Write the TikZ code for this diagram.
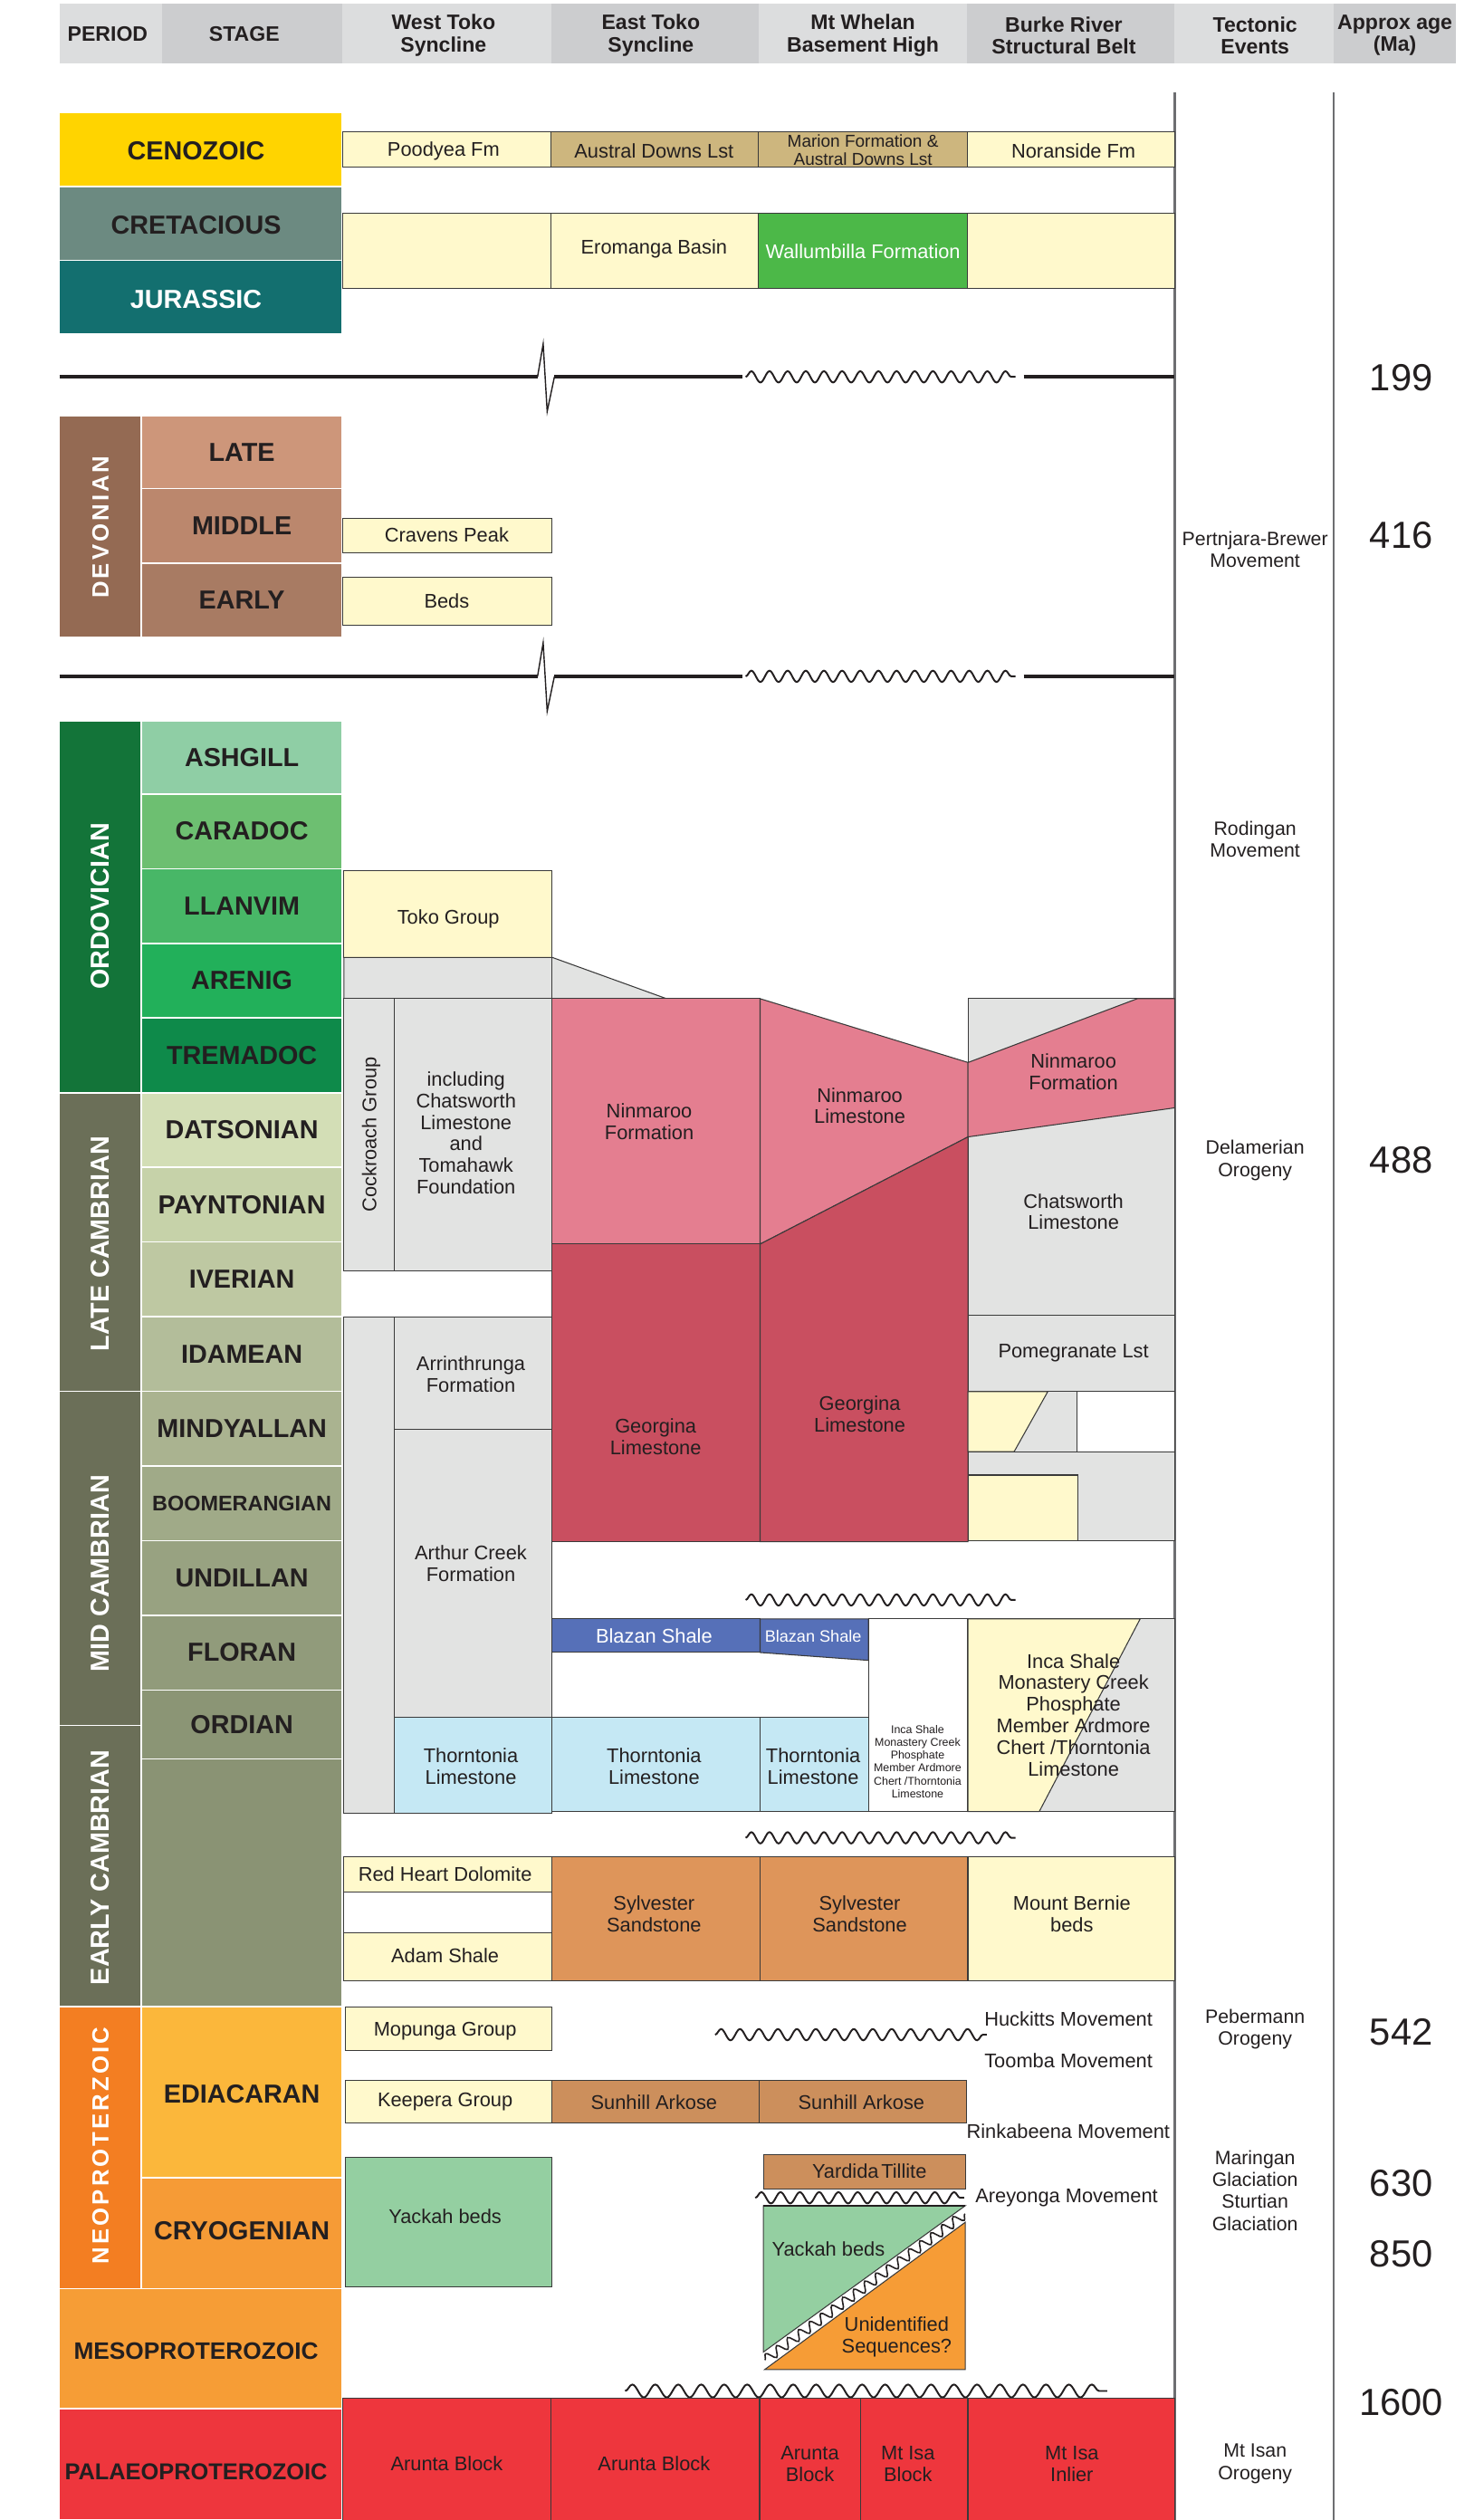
\documentclass[tikz,border=0pt]{standalone}
\usepackage{fontspec}
\setmainfont{Liberation Sans}
\usetikzlibrary{decorations.pathmorphing}
\definecolor{txt}{HTML}{231F20}
\definecolor{lnc}{HTML}{3A3A3A}
\definecolor{vlc}{HTML}{6D6E71}
\definecolor{hA}{HTML}{DCDDDE}
\definecolor{hB}{HTML}{CCCDCF}
\definecolor{yel}{HTML}{FFF9CC}
\definecolor{tan}{HTML}{CDB67E}
\definecolor{wgreen}{HTML}{4CB848}
\definecolor{gry}{HTML}{E2E3E2}
\definecolor{pnk}{HTML}{E47E90}
\definecolor{dpnk}{HTML}{C94F60}
\definecolor{lblue}{HTML}{C5E8F4}
\definecolor{blz}{HTML}{5670B8}
\definecolor{syl}{HTML}{DE955A}
\definecolor{sun}{HTML}{CC8F5C}
\definecolor{yack}{HTML}{94CFA1}
\definecolor{unid}{HTML}{F69C36}
\definecolor{rblk}{HTML}{EE363D}
\definecolor{camb}{HTML}{6B6F58}
\newcommand\myfs[2]{\fontsize{#1}{#2}\selectfont}
\newcommand\stg[5]{\path[pc,fill=#1] (88,#2) rectangle (213,#3); \node[pl] (#4) at (150.5,{(#2+#3)/2}) {#5};}
\tikzset{
 every node/.style={inner sep=0pt, outer sep=0pt, text=txt},
 hd/.style={font=\myfs{13}{13.8}\bfseries, align=center},
 pl/.style={font=\myfs{16.2}{18}\bfseries},
 vpl/.style={rotate=90, font=\myfs{16.2}{18}\bfseries, text=white},
 vsp/.style={rotate=90, font=\myfs{14.5}{16}\bfseries\addfontfeature{LetterSpace=12}, text=white},
 ft/.style={font=\myfs{12.3}{13.4}, align=center},
 tec/.style={font=\myfs{12}{13.6}, align=center},
 age/.style={font=\myfs{23.5}{26}},
 fm/.style={draw=lnc, line width=0.6pt},
 pc/.style={draw=white, line width=0.9pt},
 ucf/.style={line width=2pt, draw=txt},
 wv/.style={decorate, decoration={snake, amplitude=3.5pt, segment length=11.3pt}, line width=1.1pt, draw=txt},
 vline/.style={draw=vlc, line width=1.3pt},
}
\begin{document}
\begin{tikzpicture}[x=1pt,y=-1pt]
\useasboundingbox (0,0) rectangle (917,1568);
% ---------- header ----------
\fill[hA] (37,2.5) rectangle (101,39.5);
\fill[hB] (101,2.5) rectangle (213,39.5);
\fill[hA] (213,2.5) rectangle (343,39.5);
\fill[hB] (343,2.5) rectangle (472,39.5);
\fill[hA] (472,2.5) rectangle (602,39.5);
\fill[hB] (602,2.5) rectangle (731,39.5);
\fill[hA] (731,2.5) rectangle (830,39.5);
\fill[hB] (830,2.5) rectangle (906,39.5);
\node[hd] (hP) at (67,21) {PERIOD};
\node[hd] (hS) at (152,21) {STAGE};
\node[hd] (hW) at (276,22) {West Toko\\Syncline};
\node[hd] (hE) at (405,22) {East Toko\\Syncline};
\node[hd] (hM) at (537,22) {Mt Whelan\\Basement High};
\node[hd] (hB) at (662,22) {Burke River\\Structural Belt};
\node[hd] (hT) at (781,22) {Tectonic\\Events};
\node[hd] (hA) at (868,22) {Approx age\\(Ma)};
% ---------- vertical lines ----------
\draw[vline] (731,57.5) -- (731,1568);
\draw[vline] (830,57.5) -- (830,1568);
% ---------- Cenozoic - Jurassic ----------
\path[pc,fill={rgb,255:red,255;green,212;blue,0}] (37,70) rectangle (213,116);
\path[pc,fill={rgb,255:red,108;green,138;blue,129}] (37,116) rectangle (213,162);
\path[pc,fill={rgb,255:red,19;green,111;blue,111}] (37,162) rectangle (213,208);
\node[pl] (pCen) at (122,94) {CENOZOIC};
\node[pl] (pCre) at (122,140) {CRETACIOUS};
\node[pl,text=white] (pJur) at (122,186) {JURASSIC};
\path[fm,fill=yel] (213,82) rectangle (343,103.7);
\path[fm,fill=tan] (343,82) rectangle (472,103.7);
\path[fm,fill=tan] (472,82) rectangle (602,103.7);
\path[fm,fill=yel] (602,82) rectangle (731,103.7);
\node[ft] (fPoo) at (276,94) {Poodyea Fm};
\node[ft] (fAus) at (407,94) {Austral Downs Lst};
\node[ft,font=\myfs{10.7}{11}] (fMar) at (537,93.5) {Marion Formation \&\\Austral Downs Lst};
\node[ft] (fNor) at (668,94) {Noranside Fm};
\path[fm,fill=yel] (213,132.7) rectangle (343,179.5);
\path[fm,fill=yel] (343,132.7) rectangle (472,179.5);
\path[fm,fill=wgreen] (472,132.7) rectangle (602,179.5);
\path[fm,fill=yel] (602,132.7) rectangle (731,179.5);
\node[ft] (fEro) at (407,155) {Eromanga Basin};
\node[ft,text=white] (fWal) at (537,156.5) {Wallumbilla Formation};
% ---------- unconformity 1 ----------
\draw[ucf] (37,234.5) -- (334.5,234.5);
\draw[line width=0.8pt,draw=txt] (334.5,234.5) -- (338,214) -- (340.5,256) -- (345,234.5);
\draw[ucf] (345,234.5) -- (462,234.5);
\draw[wv] (464,234.5) -- (632,234.5);
\draw[ucf] (637,234.5) -- (731,234.5);
\node[age] (a199) at (872,235) {199};
% ---------- Devonian ----------
\path[pc,fill={rgb,255:red,148;green,106;blue,83}] (37,258.7) rectangle (88,396.8);
\node[vsp] (pDev) at (62.5,328) {DEVONIAN};
\stg{{rgb,255:red,205;green,150;blue,122}}{258.7}{304}{sLat}{LATE}
\stg{{rgb,255:red,187;green,135;blue,109}}{304}{350.4}{sMid}{MIDDLE}
\stg{{rgb,255:red,168;green,123;blue,99}}{350.4}{396.8}{sEar}{EARLY}
\path[fm,fill=yel] (213,322.4) rectangle (343.6,343.8);
\path[fm,fill=yel] (213,359.4) rectangle (343.6,388.9);
\node[ft] (fCra) at (278,333) {Cravens Peak};
\node[ft] (fBed) at (278,374) {Beds};
\node[tec] (tPer) at (781,342) {Pertnjara-Brewer\\Movement};
\node[age] (a416) at (872,333) {416};
% ---------- unconformity 2 ----------
\draw[ucf] (37,420.8) -- (334.5,420.8);
\draw[line width=0.8pt,draw=txt] (334.5,420.8) -- (338,400) -- (340.5,442.5) -- (345,420.8);
\draw[ucf] (345,420.8) -- (462,420.8);
\draw[wv] (464,420.8) -- (632,420.8);
\draw[ucf] (637,420.8) -- (731,420.8);
% ---------- Ordovician / Cambrian periods ----------
\path[pc,fill={rgb,255:red,19;green,116;blue,57}] (37,448.6) rectangle (88,680);
\node[vpl] (pOrd) at (62.5,564) {ORDOVICIAN};
\path[pc,fill=camb] (37,680) rectangle (88,865.7);
\node[vpl] (pLC) at (62.5,774) {LATE CAMBRIAN};
\path[pc,fill=camb] (37,865.7) rectangle (88,1073.5);
\node[vpl] (pMC) at (62.5,979) {MID CAMBRIAN};
\path[pc,fill=camb] (37,1073.5) rectangle (88,1248.4);
\node[vpl] (pEC) at (62.5,1162) {EARLY CAMBRIAN};
\stg{{rgb,255:red,143;green,206;blue,165}}{448.6}{494}{sAsh}{ASHGILL}
\stg{{rgb,255:red,109;green,191;blue,113}}{494}{540.5}{sCar}{CARADOC}
\stg{{rgb,255:red,72;green,183;blue,103}}{540.5}{587}{sLla}{LLANVIM}
\stg{{rgb,255:red,34;green,176;blue,90}}{587}{633.4}{sAre}{ARENIG}
\stg{{rgb,255:red,14;green,138;blue,74}}{633.4}{680}{sTre}{TREMADOC}
\stg{{rgb,255:red,211;green,222;blue,182}}{680}{726.3}{sDat}{DATSONIAN}
\stg{{rgb,255:red,198;green,210;blue,169}}{726.3}{772.8}{sPay}{PAYNTONIAN}
\stg{{rgb,255:red,190;green,200;blue,162}}{772.8}{819.2}{sIve}{IVERIAN}
\stg{{rgb,255:red,179;green,189;blue,154}}{819.2}{865.7}{sIda}{IDAMEAN}
\stg{{rgb,255:red,170;green,179;blue,144}}{865.7}{912.2}{sMin}{MINDYALLAN}
\path[pc,fill={rgb,255:red,160;green,170;blue,136}] (88,912.2) rectangle (213,958.6);
\node[pl,font=\myfs{13.2}{15}\bfseries] (sBoo) at (150.5,935.4) {BOOMERANGIAN};
\stg{{rgb,255:red,152;green,162;blue,129}}{958.6}{1005}{sUnd}{UNDILLAN}
\stg{{rgb,255:red,145;green,155;blue,123}}{1005}{1051.5}{sFlo}{FLORAN}
\stg{{rgb,255:red,139;green,149;blue,117}}{1051.5}{1094.5}{sOrd}{ORDIAN}
\path[pc,fill={rgb,255:red,138;green,147;blue,116}] (88,1094.5) rectangle (213,1248.4);
% ---------- Ordovician formations ----------
\path[fm,fill=yel] (214,541.5) rectangle (343.6,595.7);
\node[ft] (fTok) at (279,572) {Toko Group};
\path[fm,fill=gry] (214,595.7) -- (343.6,595.7) -- (414.8,621.4) -- (214,621.4) -- cycle;
\draw[fm] (343.6,595.7) -- (343.6,621.4);
\path[fm,fill=gry] (214,621.4) rectangle (245.6,790.6);
\node[ft,rotate=90] (fCoc) at (231,706) {Cockroach Group};
\path[fm,fill=gry] (245.6,621.4) rectangle (343.6,790.6);
\node[ft] (fInc) at (290,705) {including\\Chatsworth\\Limestone\\and\\Tomahawk\\Foundation};
\path[fm,fill=pnk] (343.6,621.4) rectangle (473,774.1);
\node[ft] (fNF1) at (404,698) {Ninmaroo\\Formation};
\path[fm,fill=pnk] (473,621.4) -- (602.4,661.1) -- (602.4,707.4) -- (473,774.1) -- cycle;
\node[ft] (fNL) at (535,688) {Ninmaroo\\Limestone};
\path[fm,fill=gry] (602.4,621.4) rectangle (731,818.4);
\path[fm,fill=pnk] (602.4,661.1) -- (707.7,621.4) -- (731,621.4) -- (731,689.3) -- (602.4,707.4) -- cycle;
\node[ft] (fNF2) at (668,667) {Ninmaroo\\Formation};
\node[ft] (fCha) at (668,754) {Chatsworth\\Limestone};
\path[fm,fill=dpnk] (343.6,774.1) rectangle (473,959.3);
\node[ft] (fGe1) at (408,894) {Georgina\\Limestone};
\path[fm,fill=dpnk] (473,774.1) -- (602.4,707.4) -- (602.4,959.3) -- (473,959.3) -- cycle;
\node[ft] (fGe2) at (535,880) {Georgina\\Limestone};
\path[fm,fill=gry] (602.4,818.4) rectangle (731,865.9);
\node[ft] (fPom) at (668,842) {Pomegranate Lst};
\path[fm,fill=gry] (602.4,865.9) rectangle (670.3,903.2);
\path[fm,fill=yel] (602.4,865.9) -- (652,865.9) -- (631.1,903.2) -- (602.4,903.2) -- cycle;
\path[fm,fill=white] (670.3,865.9) rectangle (731,903.2);
\path[fm,fill=gry] (602.4,903.2) rectangle (731,958.5);
\path[fm,fill=yel] (602.4,917.8) rectangle (671,958.5);
% ---------- West Toko lower ----------
\path[fm,fill=gry] (214,819.3) rectangle (245.6,1128.2);
\path[fm,fill=gry] (245.6,819.3) rectangle (343.6,889.1);
\node[ft] (fArr) at (293,855) {Arrinthrunga\\Formation};
\path[fm,fill=gry] (245.6,889.1) rectangle (343.6,1068.6);
\node[ft] (fArt) at (293,973) {Arthur Creek\\Formation};
\path[fm,fill=lblue] (245.6,1068.6) rectangle (343.6,1128.2);
\node[ft] (fTh1) at (293,1099) {Thorntonia\\Limestone};
% ---------- Middle Cambrian ----------
\draw[wv] (464,995.5) -- (632,995.5);
\path[fm,fill=blz] (343.6,1007.3) rectangle (473,1028.2);
\node[ft,text=white] (fBl1) at (407,1018) {Blazan Shale};
\path[fm,fill=blz] (473,1007.3) -- (540.4,1007.3) -- (540.4,1033.1) -- (473,1028.2) -- cycle;
\node[ft,text=white,font=\myfs{10.2}{11}] (fBl2) at (506,1018) {Blazan Shale};
\path[fm,fill=white] (540.4,1007.3) rectangle (602.3,1127.2);
\node[ft,font=\myfs{7}{8}] (fIn1) at (571,1096) {Inca Shale\\Monastery Creek\\Phosphate\\Member Ardmore\\Chert /Thorntonia\\Limestone};
\path[fm,fill=gry] (602.3,1007.3) rectangle (731,1127.2);
\path[fm,fill=yel] (602.3,1007.3) -- (709.5,1007.3) -- (646.7,1127.2) -- (602.3,1127.2) -- cycle;
\node[ft] (fIn2) at (668,1067) {Inca Shale\\Monastery Creek\\Phosphate\\Member Ardmore\\Chert /Thorntonia\\Limestone};
\path[fm,fill=lblue] (343.6,1068.6) rectangle (473,1127.2);
\node[ft] (fTh2) at (407,1099) {Thorntonia\\Limestone};
\path[fm,fill=lblue] (473,1068.6) rectangle (540.4,1127.2);
\node[ft] (fTh3) at (506,1099) {Thorntonia\\Limestone};
\draw[wv] (464,1143.5) -- (632,1143.5);
% ---------- Early Cambrian ----------
\path[fm,fill=yel] (214,1155.4) rectangle (343.6,1177);
\node[ft] (fRed) at (277,1166) {Red Heart Dolomite};
\path[fm,fill=white] (214,1177) rectangle (343.6,1202.4);
\path[fm,fill=yel] (214,1202.4) rectangle (343.6,1232.4);
\node[ft] (fAda) at (277,1217) {Adam Shale};
\path[fm,fill=syl] (343.6,1155.4) rectangle (473,1232.4);
\node[ft] (fSy1) at (407,1191) {Sylvester\\Sandstone};
\path[fm,fill=syl] (473,1155.4) rectangle (602.3,1232.4);
\node[ft] (fSy2) at (535,1191) {Sylvester\\Sandstone};
\path[fm,fill=yel] (602.3,1155.4) rectangle (731,1232.4);
\node[ft] (fMtB) at (667,1191) {Mount Bernie\\beds};
% ---------- Neoproterozoic ----------
\path[pc,fill={rgb,255:red,243;green,126;blue,34}] (37,1248.4) rectangle (88,1424);
\node[vsp] (pNeo) at (62.5,1335) {NEOPROTERZOIC};
\path[pc,fill={rgb,255:red,251;green,183;blue,59}] (88,1248.4) rectangle (213,1355);
\node[pl] (sEdi) at (150.5,1303) {EDIACARAN};
\path[pc,fill={rgb,255:red,246;green,155;blue,54}] (88,1355) rectangle (213,1424);
\node[pl] (sCry) at (150.5,1388) {CRYOGENIAN};
\path[pc,fill={rgb,255:red,246;green,157;blue,54}] (37,1424) rectangle (213,1498.6);
\node[pl,font=\myfs{14.8}{16}\bfseries] (pMes) at (122,1463) {MESOPROTEROZOIC};
\path[pc,fill=rblk] (37,1498.6) rectangle (213,1568);
\node[pl,font=\myfs{14.3}{16}\bfseries] (pPal) at (122,1538) {PALAEOPROTEROZOIC};
\path[fm,fill=yel] (214.7,1248.6) rectangle (343.2,1276);
\node[ft] (fMop) at (277,1264) {Mopunga Group};
\draw[wv,decoration={segment length=11.8pt}] (445,1266) -- (614,1266);
\node[ft,anchor=west] (tHuc) at (612.6,1256) {Huckitts Movement};
\node[ft,anchor=west] (tToo) at (612.6,1282) {Toomba Movement};
\path[fm,fill=yel] (214.7,1294.4) rectangle (343.2,1321.1);
\node[ft] (fKee) at (277,1308) {Keepera Group};
\path[fm,fill=sun] (343.2,1294.4) rectangle (472.5,1321.1);
\node[ft] (fSu1) at (407,1308) {Sunhill Arkose};
\path[fm,fill=sun] (472.5,1294.4) rectangle (601.6,1321.1);
\node[ft] (fSu2) at (536,1308) {Sunhill Arkose};
\node[ft,anchor=west] (tRin) at (601.5,1326) {Rinkabeena Movement};
\path[fm,fill=yack] (214.7,1342.5) rectangle (343.2,1422.7);
\node[ft] (fYa1) at (277,1379) {Yackah beds};
\path[fm,fill=sun] (475,1340.6) rectangle (600.7,1362);
\node[ft] (fYar) at (541,1351) {Yardida\kern1.5pt Tillite};
\draw[wv,decoration={segment length=12pt}] (470,1367.5) -- (600,1367.5);
\node[ft,anchor=west] (tAre) at (607,1367.5) {Areyonga Movement};
\path[fm,fill=yack] (475,1372.4) -- (600.7,1372.4) -- (475,1463.5) -- cycle;
\draw[line width=1.2pt,draw=txt] (475,1372.4) -- (600.7,1372.4);
\path[fm,fill=unid] (600.7,1382.7) -- (600.7,1474.4) -- (475.8,1474.4) -- cycle;
\coordinate (dA) at (476,1468.5);
\coordinate (dB) at (600.5,1377.5);
\draw[wv,decoration={amplitude=3pt,segment length=8.5pt},line width=0.9pt] (dA) -- (dB);
\node[ft] (fYa2) at (515.5,1399.6) {Yackah beds};
\node[ft] (fUni) at (558,1454) {Unidentified\\Sequences?};
\node[tec] (tPeb) at (781,1262.5) {Pebermann\\Orogeny};
\node[tec] (tMar) at (781,1363) {Maringan\\Glaciation\\Sturtian\\Glaciation};
\node[age] (a542) at (872,1264.5) {542};
\node[age] (a630) at (872,1358.5) {630};
\node[age] (a850) at (872,1402.5) {850};
% ---------- Palaeoproterozoic ----------
\draw[wv,decoration={amplitude=4pt,segment length=14.3pt}] (389,1487.7) -- (689,1487.7);
\path[fm,fill=rblk] (213,1492) rectangle (731,1570);
\draw[fm] (343,1492) -- (343,1568);
\draw[fm] (472.7,1492) -- (472.7,1568);
\draw[fm] (535.6,1492) -- (535.6,1568);
\draw[fm] (602.3,1492) -- (602.3,1568);
\node[ft] (fAr1) at (278,1533) {Arunta Block};
\node[ft] (fAr2) at (407,1533) {Arunta Block};
\node[ft] (fAr3) at (504,1533) {Arunta\\Block};
\node[ft] (fMI1) at (565,1533) {Mt Isa\\Block};
\node[ft] (fMI2) at (667,1533) {Mt Isa\\Inlier};
\node[tec] (tIsa) at (781,1533) {Mt Isan\\Orogeny};
\node[age] (a1600) at (872,1495) {1600};
% tectonic upper
\node[tec] (tRod) at (781,522) {Rodingan\\Movement};
\node[tec] (tDel) at (781,722) {Delamerian\\Orogeny};
\node[age] (a488) at (872,722) {488};
\end{tikzpicture}
\end{document}
